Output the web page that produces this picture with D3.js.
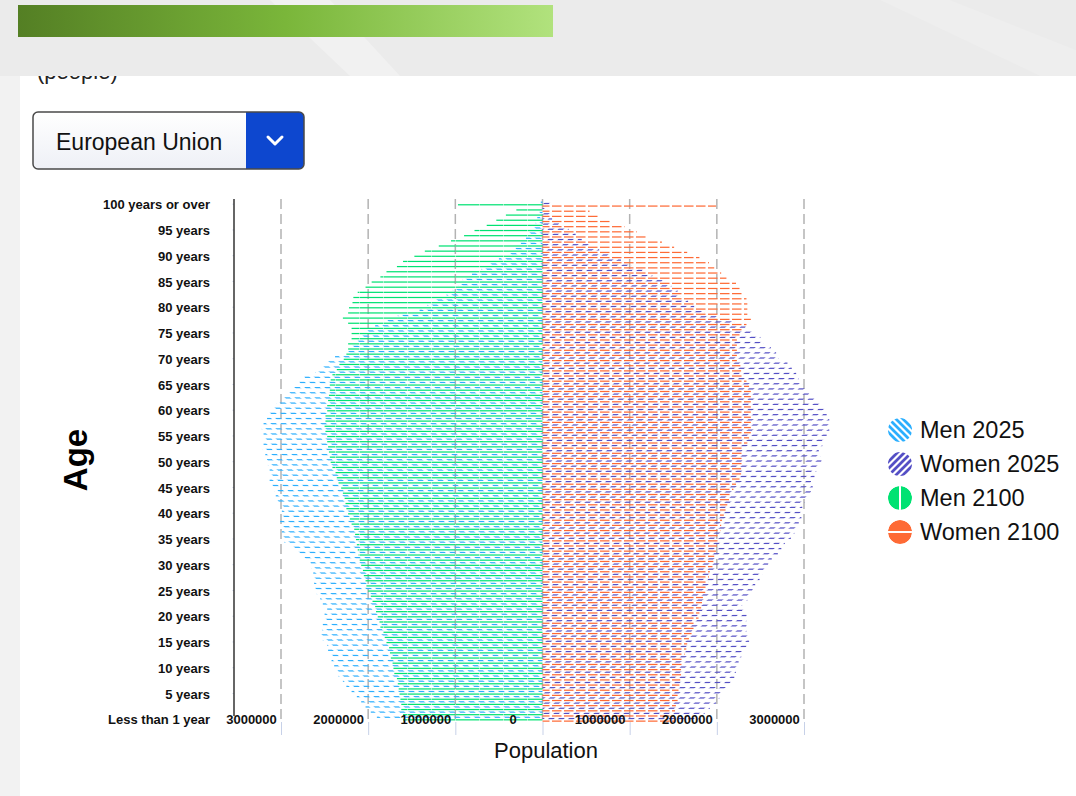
<!DOCTYPE html>
<html>
<head>
<meta charset="utf-8">
<script src="https://cdn.jsdelivr.net/npm/d3@7"></script>
<style>
  body { margin: 0; background: #fff; font-family: "Liberation Sans", Arial, sans-serif; }
</style>
</head>
<body>
<script>
// ages 0..100, values in people
var ages = d3.range(0, 101);
var tickAges = [0, 5, 10, 15, 20, 25, 30, 35, 40, 45, 50, 55, 60, 65, 70, 75, 80, 85, 90, 95, 100];
var tickLabels = ["Less than 1 year", "5 years", "10 years", "15 years", "20 years", "25 years", "30 years",
    "35 years", "40 years", "45 years", "50 years", "55 years", "60 years", "65 years", "70 years",
    "75 years", "80 years", "85 years", "90 years", "95 years", "100 years or over"];
var seriesNames = ["Men 2025", "Women 2025", "Men 2100", "Women 2100"];
var xTicks = [-3000000, -2000000, -1000000, 0, 1000000, 2000000, 3000000];

var men2025 = [
    1900000, 1970000, 2030000, 2080000, 2130000, 2190000, 2250000, 2290000, 2340000, 2360000,
    2390000, 2420000, 2440000, 2460000, 2470000, 2520000, 2550000, 2530000, 2520000, 2500000,
    2500000, 2470000, 2520000, 2550000, 2590000, 2610000, 2620000, 2630000, 2630000, 2650000,
    2660000, 2730000, 2820000, 2880000, 2960000, 2980000, 2990000, 3000000, 3010000, 3010000,
    2990000, 3010000, 3050000, 3060000, 3080000, 3100000, 3130000, 3130000, 3130000, 3150000,
    3160000, 3180000, 3210000, 3200000, 3180000, 3200000, 3220000, 3200000, 3160000, 3140000,
    3100000, 3050000, 2990000, 2920000, 2860000, 2790000, 2730000, 2610000, 2520000, 2460000,
    2380000, 2230000, 2200000, 2150000, 2100000, 2020000, 1920000, 1810000, 1660000, 1410000,
    1320000, 1240000, 1100000, 1030000, 970000, 920000, 810000, 700000, 610000, 500000,
    390000, 310000, 250000, 190000, 160000, 110000, 80000, 60000, 40000, 20000,
    20000];
var women2025 = [
    1800000, 1860000, 1920000, 1990000, 2030000, 2060000, 2120000, 2160000, 2200000, 2220000,
    2230000, 2250000, 2280000, 2310000, 2340000, 2370000, 2370000, 2340000, 2340000, 2340000,
    2340000, 2310000, 2290000, 2350000, 2390000, 2410000, 2440000, 2490000, 2520000, 2550000,
    2590000, 2630000, 2700000, 2740000, 2780000, 2850000, 2890000, 2920000, 2940000, 2970000,
    2970000, 2980000, 3010000, 3040000, 3080000, 3100000, 3080000, 3120000, 3140000, 3170000,
    3200000, 3190000, 3170000, 3210000, 3230000, 3260000, 3290000, 3290000, 3290000, 3260000,
    3240000, 3200000, 3120000, 3060000, 3010000, 2980000, 2940000, 2910000, 2860000, 2810000,
    2710000, 2680000, 2620000, 2540000, 2500000, 2420000, 2330000, 2200000, 2030000, 1860000,
    1740000, 1670000, 1580000, 1550000, 1480000, 1400000, 1260000, 1150000, 1020000, 900000,
    770000, 650000, 540000, 450000, 380000, 300000, 190000, 110000, 90000, 60000,
    100000];
var men2100 = [
    1600000, 1600000, 1620000, 1620000, 1630000, 1640000, 1650000, 1660000, 1670000, 1700000,
    1710000, 1720000, 1740000, 1750000, 1760000, 1790000, 1810000, 1830000, 1860000, 1870000,
    1890000, 1910000, 1920000, 1950000, 1970000, 2000000, 2020000, 2030000, 2050000, 2060000,
    2080000, 2100000, 2110000, 2120000, 2130000, 2140000, 2150000, 2160000, 2190000, 2210000,
    2230000, 2250000, 2260000, 2270000, 2290000, 2310000, 2340000, 2360000, 2380000, 2410000,
    2430000, 2440000, 2450000, 2460000, 2470000, 2470000, 2490000, 2500000, 2490000, 2490000,
    2470000, 2470000, 2460000, 2450000, 2440000, 2440000, 2430000, 2410000, 2360000, 2330000,
    2280000, 2250000, 2230000, 2230000, 2190000, 2190000, 2190000, 2230000, 2290000, 2230000,
    2220000, 2180000, 2170000, 2120000, 2030000, 1960000, 1860000, 1790000, 1670000, 1600000,
    1470000, 1350000, 1190000, 1050000, 900000, 780000, 640000, 530000, 420000, 300000,
    970000];
var women2100 = [
    1510000, 1510000, 1520000, 1530000, 1550000, 1550000, 1560000, 1570000, 1580000, 1590000,
    1590000, 1600000, 1610000, 1630000, 1650000, 1660000, 1680000, 1710000, 1740000, 1760000,
    1790000, 1800000, 1820000, 1830000, 1840000, 1870000, 1890000, 1900000, 1910000, 1920000,
    1950000, 1960000, 1970000, 1990000, 2000000, 2020000, 2030000, 2040000, 2050000, 2060000,
    2080000, 2100000, 2120000, 2140000, 2160000, 2190000, 2220000, 2260000, 2280000, 2280000,
    2290000, 2290000, 2290000, 2310000, 2350000, 2370000, 2390000, 2390000, 2390000, 2390000,
    2390000, 2390000, 2390000, 2390000, 2390000, 2370000, 2340000, 2310000, 2280000, 2270000,
    2230000, 2230000, 2230000, 2230000, 2230000, 2260000, 2290000, 2340000, 2390000, 2350000,
    2350000, 2350000, 2340000, 2310000, 2260000, 2220000, 2110000, 2050000, 1970000, 1910000,
    1800000, 1660000, 1510000, 1370000, 1200000, 1080000, 940000, 790000, 650000, 540000,
    1990000];

var svg = d3.select("body").append("svg")
    .attr("width", 1076)
    .attr("height", 796);

var defs = svg.append("defs");

// page background ------------------------------------------------------
svg.append("rect").attr("width", 1076).attr("height", 796).attr("fill", "#f2f2f2");
svg.append("rect").attr("x", 20).attr("y", 76).attr("width", 1056).attr("height", 720).attr("fill", "#fff");

svg.append("text")
    .attr("x", 37).attr("y", 79)
    .attr("font-size", 22)
    .attr("fill", "#222")
    .text("(people)");

svg.append("rect").attr("width", 1076).attr("height", 76).attr("fill", "#ebebeb");
svg.append("path").attr("d", "M270,0 L330,0 L400,76 L350,76 Z").attr("fill", "#fff").attr("opacity", 0.3);
svg.append("path").attr("d", "M880,0 L950,0 L1076,50 L1076,76 L1040,76 Z").attr("fill", "#fff").attr("opacity", 0.15);

var grad = defs.append("linearGradient").attr("id", "bannerGrad");
grad.append("stop").attr("offset", "0%").attr("stop-color", "#547f24");
grad.append("stop").attr("offset", "50%").attr("stop-color", "#7ab63a");
grad.append("stop").attr("offset", "100%").attr("stop-color", "#b1e27d");
svg.append("rect").attr("x", 18).attr("y", 5).attr("width", 535).attr("height", 32).attr("fill", "url(#bannerGrad)");

// dropdown --------------------------------------------------------------
var ddGrad = defs.append("linearGradient").attr("id", "ddGrad").attr("x1", 0).attr("y1", 0).attr("x2", 0).attr("y2", 1);
ddGrad.append("stop").attr("offset", "0%").attr("stop-color", "#ffffff");
ddGrad.append("stop").attr("offset", "100%").attr("stop-color", "#eef0f6");

var dd = svg.append("g");
dd.append("rect")
    .attr("x", 33).attr("y", 112).attr("width", 271).attr("height", 57).attr("rx", 5)
    .attr("fill", "url(#ddGrad)");
dd.append("path")
    .attr("d", "M246,112 H299 a5,5 0 0 1 5,5 V164 a5,5 0 0 1 -5,5 H246 Z")
    .attr("fill", "#0d47cf");
dd.append("rect")
    .attr("x", 33).attr("y", 112).attr("width", 271).attr("height", 57).attr("rx", 5)
    .attr("fill", "none").attr("stroke", "#4a4a4a").attr("stroke-width", 1.5);
dd.append("polyline")
    .attr("points", "268,137 275,144 282,137")
    .attr("fill", "none").attr("stroke", "#fff").attr("stroke-width", 3)
    .attr("stroke-linecap", "round").attr("stroke-linejoin", "round");
dd.append("text")
    .attr("x", 56).attr("y", 150)
    .attr("font-size", 23)
    .attr("fill", "#111")
    .text("European Union");

// chart patterns --------------------------------------------------------
var colors = ["#2caffe", "#544fc5", "#00e272", "#fe6a35"];

function stripePattern(id, color, d, w) {
    var p = defs.append("pattern").attr("id", id)
        .attr("patternUnits", "userSpaceOnUse")
        .attr("width", 10).attr("height", 10);
    p.append("path").attr("d", d).attr("fill", "none")
        .attr("stroke", color).attr("stroke-width", w);
}
stripePattern("pat0", colors[0], "M 0 0 L 10 10 M 9 -1 L 11 1 M -1 9 L 1 11", 4);
stripePattern("pat1", colors[1], "M 0 10 L 10 0 M -1 1 L 1 -1 M 9 11 L 11 9", 4);

var p2 = defs.append("pattern").attr("id", "pat2")
    .attr("patternUnits", "userSpaceOnUse").attr("width", 24).attr("height", 10);
p2.append("rect").attr("width", 23.5).attr("height", 10).attr("fill", colors[2]);

var p3 = defs.append("pattern").attr("id", "pat3")
    .attr("patternUnits", "userSpaceOnUse").attr("width", 12).attr("height", 10);
p3.append("rect").attr("width", 9.5).attr("height", 10).attr("fill", colors[3]);

// scales ----------------------------------------------------------------
var x = d3.scaleLinear()
    .domain([-3000000, 3000000])
    .range([281, 804]);

var y = d3.scaleBand()
    .domain(ages.slice().reverse())
    .range([201.6, 721.8])
    .padding(0);

var sub = d3.scaleBand()
    .domain([0, 1, 2, 3])
    .range([0, y.bandwidth()])
    .padding(0);

// grid lines
svg.append("g").selectAll("line")
    .data(xTicks)
    .enter()
    .append("line")
    .attr("x1", function (d) { return x(d); })
    .attr("x2", function (d) { return x(d); })
    .attr("y1", 199)
    .attr("y2", 722)
    .attr("stroke", "#b3b3b3")
    .attr("stroke-width", 1.5)
    .attr("stroke-dasharray", "10,5");

// bars
var rows = [];
ages.forEach(function (a) {
    rows.push({age: a, s: 0, v: -men2025[a]});
    rows.push({age: a, s: 1, v: women2025[a]});
    rows.push({age: a, s: 2, v: -men2100[a]});
    rows.push({age: a, s: 3, v: women2100[a]});
});

svg.append("g").selectAll("rect")
    .data(rows)
    .enter()
    .append("rect")
    .attr("x", function (d) { return Math.min(x(0), x(d.v)); })
    .attr("width", function (d) { return Math.abs(x(d.v) - x(0)); })
    .attr("y", function (d) { return y(d.age) + sub(d.s); })
    .attr("height", sub.bandwidth() * 0.95)
    .attr("fill", function (d) { return "url(#pat" + d.s + ")"; });

// y axis
var yAxis = d3.axisLeft(y)
    .tickValues(tickAges)
    .tickSize(16)
    .tickSizeOuter(0)
    .tickPadding(8)
    .tickFormat(function (d) { return tickLabels[tickAges.indexOf(d)]; });

var yAxisGroup = svg.append("g")
    .attr("transform", "translate(234,0)")
    .call(yAxis);
yAxisGroup.select(".domain").remove();
yAxisGroup.selectAll(".tick line")
    .attr("x2", -1.5)
    .attr("stroke", "#c7d1e8");
yAxisGroup.selectAll(".tick text")
    .attr("dy", "0.4em")
    .attr("font-family", "\"Liberation Sans\", Arial, sans-serif")
    .attr("font-size", 13)
    .attr("font-weight", "bold")
    .attr("fill", "#111");
svg.append("line")
    .attr("x1", 234).attr("x2", 234)
    .attr("y1", 199).attr("y2", 716)
    .attr("stroke", "#333").attr("stroke-width", 1.5);

// x axis
var xAxis = d3.axisBottom(x)
    .tickValues(xTicks)
    .tickSize(13)
    .tickSizeOuter(0)
    .tickFormat(function (d) { return d3.format("d")(Math.abs(d)); });

var xAxisGroup = svg.append("g")
    .attr("transform", "translate(0,722)")
    .call(xAxis);
xAxisGroup.select(".domain").remove();
xAxisGroup.selectAll(".tick line").attr("stroke", "#c7d1e8");
xAxisGroup.selectAll(".tick text")
    .attr("x", -30)
    .attr("y", 2)
    .attr("dy", 0)
    .attr("font-family", "\"Liberation Sans\", Arial, sans-serif")
    .attr("font-size", 13)
    .attr("font-weight", "bold")
    .attr("fill", "#111");

// axis titles
svg.append("text")
    .attr("transform", "translate(87,460) rotate(-90)")
    .attr("text-anchor", "middle")
    .attr("font-size", 33)
    .attr("font-weight", "bold")
    .attr("fill", "#000")
    .text("Age");

svg.append("text")
    .attr("x", 546).attr("y", 758)
    .attr("text-anchor", "middle")
    .attr("font-size", 22)
    .attr("fill", "#111")
    .text("Population");

// legend ----------------------------------------------------------------
var legend = svg.append("g");
var legendY = [430, 464, 498, 532];

seriesNames.forEach(function (name, i) {
    var cy = legendY[i];
    var cid = "clipLeg" + i;
    defs.append("clipPath").attr("id", cid)
        .append("circle").attr("cx", 900).attr("cy", cy).attr("r", 12);
    var g = legend.append("g");
    if (i < 2) {
        var lp = defs.append("pattern").attr("id", "legPat" + i)
            .attr("patternUnits", "userSpaceOnUse")
            .attr("width", 7).attr("height", 7)
            .attr("patternTransform", "translate(900," + cy + ")");
        lp.append("path")
            .attr("d", i === 0 ? "M 0 0 L 7 7 M 6 -1 L 8 1 M -1 6 L 1 8" : "M 0 7 L 7 0 M -1 1 L 1 -1 M 6 8 L 8 6")
            .attr("fill", "none").attr("stroke", colors[i]).attr("stroke-width", 2.8);
        g.append("circle").attr("cx", 900).attr("cy", cy).attr("r", 12)
            .attr("fill", "url(#legPat" + i + ")");
    } else {
        var cg = g.append("g").attr("clip-path", "url(#" + cid + ")");
        cg.append("circle").attr("cx", 900).attr("cy", cy).attr("r", 12).attr("fill", colors[i]);
        if (i === 2) {
            cg.append("rect").attr("x", 899).attr("y", cy - 12).attr("width", 2).attr("height", 24).attr("fill", "#fff");
        } else {
            cg.append("rect").attr("x", 888).attr("y", cy - 1).attr("width", 24).attr("height", 2).attr("fill", "#fff");
        }
    }
    g.append("text")
        .attr("x", 920).attr("y", cy + 8)
        .attr("font-size", 23.5)
        .attr("fill", "#111")
        .text(name);
});
</script>
</body>
</html>
